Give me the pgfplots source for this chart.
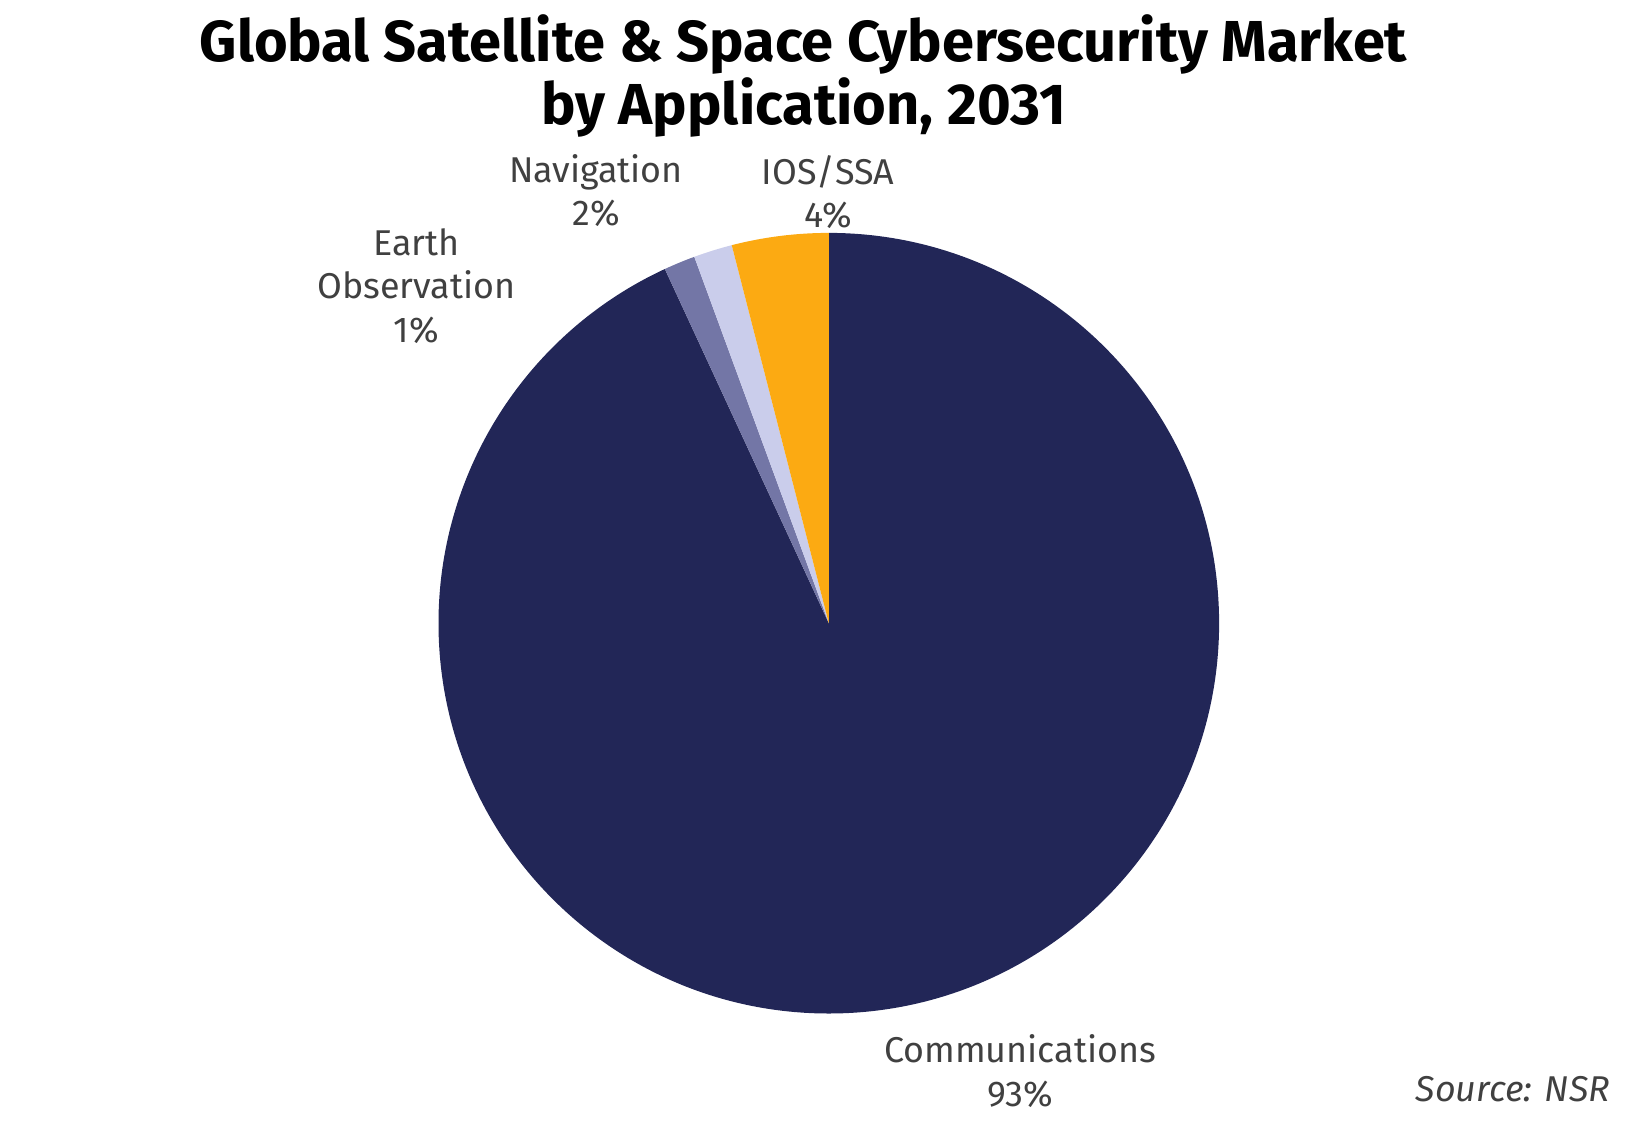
\documentclass[border=0pt]{standalone}
\usepackage{pgfplots}
\pgfplotsset{compat=1.18}
\usepackage{fontspec}
\setmainfont{Fira Sans}
\definecolor{cComm}{HTML}{222657}
\definecolor{cEO}{HTML}{7376A6}
\definecolor{cNav}{HTML}{CACDEB}
\definecolor{cIOS}{HTML}{FCAA12}
\definecolor{txt}{HTML}{404040}
% shares (percent), clockwise from 12 o'clock
\def\vComm{93.1}
\def\vEO{1.3}
\def\vNav{1.6}
\def\vIOS{4.0}
\begin{document}
\begin{tikzpicture}
\pgfmathsetmacro\aO{90}
\pgfmathsetmacro\aA{\aO-3.6*\vComm}
\pgfmathsetmacro\aB{\aA-3.6*\vEO}
\pgfmathsetmacro\aC{\aB-3.6*\vNav}
\pgfmathsetmacro\aD{\aC-3.6*\vIOS}
\def\R{195.15bp}
\begin{axis}[
  scale only axis, width=822.5bp, height=563.5bp,
  xmin=0, xmax=1645, ymin=0, ymax=1127, y dir=reverse,
  hide axis, clip=false]
\addplot[draw=none] coordinates {(0,0) (1645,1127)};
\fill[cComm] (axis cs:828.8,623.2) -- ++(\aO:\R) arc[start angle=\aO, end angle=\aA, radius=\R] -- cycle;
\fill[cEO]   (axis cs:828.8,623.2) -- ++(\aA:\R) arc[start angle=\aA, end angle=\aB, radius=\R] -- cycle;
\fill[cNav]  (axis cs:828.8,623.2) -- ++(\aB:\R) arc[start angle=\aB, end angle=\aC, radius=\R] -- cycle;
\fill[cIOS]  (axis cs:828.8,623.2) -- ++(\aC:\R) arc[start angle=\aC, end angle=\aD, radius=\R] -- cycle;
\node[anchor=base, font=\bfseries\fontsize{29}{31.5}\selectfont, align=center] at (axis cs:803.6,124) {Global Satellite \& Space Cybersecurity Market\\by Application, 2031};
\begin{scope}[every node/.style={anchor=base, align=center, text=txt, font=\fontsize{18}{21.8}\selectfont}]
\node at (axis cs:596,225.5) {Navigation\\2\%};
\node at (axis cs:828,227.7) {IOS/SSA\\4\%};
\node at (axis cs:416.5,342) {Earth\\Observation\\1\%};
\node at (axis cs:1020,1106) {Communications\\93\%};
\node[anchor=base east, font=\itshape\fontsize{18}{21.8}\selectfont] at (axis cs:1617,1101.5) {Source: NSR};
\end{scope}
\end{axis}
\end{tikzpicture}
\end{document}
